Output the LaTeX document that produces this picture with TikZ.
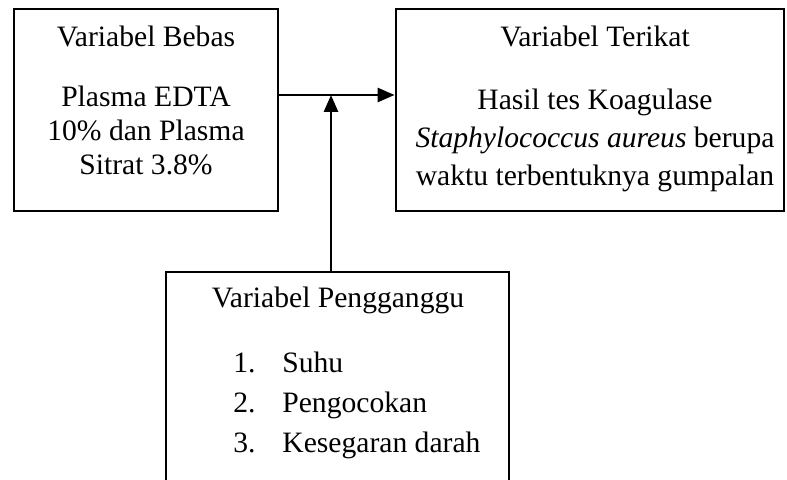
\documentclass[tikz,border=0pt]{standalone}
\usepackage{fontspec}
\setmainfont{Liberation Serif}
\usetikzlibrary{arrows.meta,positioning}
\tikzset{
  varbox/.style={draw, line width=1.4pt, inner sep=0pt},
  txt/.style={font=\fontsize{14.8}{18}\selectfont, inner sep=0pt, anchor=base},
  item/.style={txt, anchor=base west},
  arr/.style={-{Triangle[length=8.5pt,width=7pt]}, line width=1.4pt},
}
\newcommand{\itm}[2]{\makebox[24.5pt][l]{#1}#2}

\begin{document}
\begin{tikzpicture}[x=0.5pt,y=-0.5pt]
  \useasboundingbox (0,0) rectangle (787,480);
  \clip (0,0) rectangle (787,480);

  % boxes
  \node[varbox, minimum width=132pt, minimum height=101pt] (bebas) at (146,110) {};
  \node[varbox, minimum width=194pt, minimum height=101pt] (terikat) at (590,110) {};
  \node[varbox, minimum width=171.5pt, minimum height=114pt] (ganggu) at (337.5,386) {};

  % variabel bebas
  \node[txt] (bebasT) at (146,47) {Variabel Bebas};
  \node[txt] (bebas1) at (146,107) {Plasma EDTA};
  \node[txt] (bebas2) at (146,141) {10\% dan Plasma};
  \node[txt] (bebas3) at (146,175) {Sitrat 3.8\%};

  % variabel terikat
  \node[txt] (terikatT) at (595,47) {Variabel Terikat};
  \node[txt] (terikat1) at (595,110) {Hasil tes Koagulase};
  \node[txt] (terikat2) at (595,148) {\textit{Staphylococcus aureus} berupa};
  \node[txt] (terikat3) at (595,186) {waktu terbentuknya gumpalan};

  % variabel pengganggu
  \node[txt] (gangguT) at (338,308) {Variabel Pengganggu};
  \node[item] (ganggu1) at (233,373) {\itm{1.}{Suhu}};
  \node[item] (ganggu2) at (233,413) {\itm{2.}{Pengocokan}};
  \node[item] (ganggu3) at (233,452) {\itm{3.}{Kesegaran darah}};

  % connectors
  \coordinate (junc) at (331,95);
  \draw[arr] (bebas.east |- junc) -- (terikat.west |- junc);
  \draw[arr] (ganggu.north -| junc) -- (junc);
\end{tikzpicture}
\end{document}
